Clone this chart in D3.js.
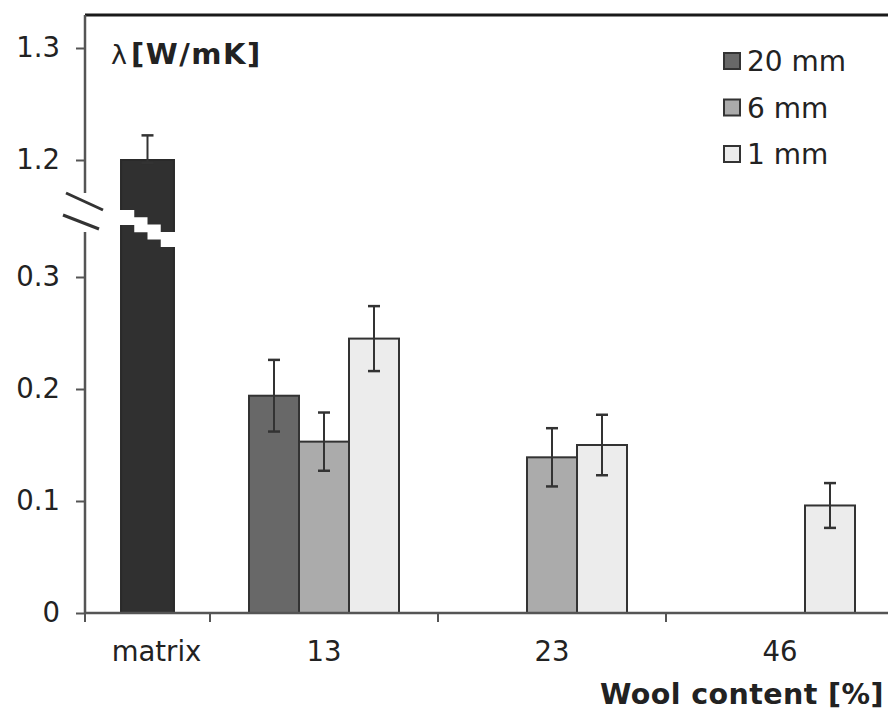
<!DOCTYPE html>
<html>
<head>
<meta charset="utf-8">
<script src="https://cdn.jsdelivr.net/npm/d3@7"></script>
<style>
  body { margin: 0; background: #fff; }
  svg { display: block; }
  text { font-family: Verdana, "DejaVu Sans", sans-serif; fill: #222; }
</style>
</head>
<body>
<div id="chart"></div>
<script>
// data
const groups = ["13", "23", "46"];
const series = ["20 mm", "6 mm", "1 mm"];
const mean20 = [0.194, null, null];
const mean6 = [0.153, 0.139, null];
const mean1 = [0.245, 0.150, 0.096];
const err20 = [0.032, null, null];
const err6 = [0.026, 0.026, null];
const err1 = [0.029, 0.027, 0.020];
const matrixLabel = "matrix";
const matrixMean = 1.2;
const matrixErr = 0.022;
const yTicks = [0, 0.1, 0.2, 0.3, 1.2, 1.3];

const W = 888, H = 713;
const margin = { top: 15, left: 85, bottom: 613 };

const svg = d3.select("#chart").append("svg")
  .attr("width", W).attr("height", H);

// broken y axis: 0..0.3 below the break, 1.2..1.3 above it
const y = d3.scaleLinear()
  .domain([0, 0.3, 1.2, 1.3])
  .range([613, 277, 160, 48]);

const xMatrix = d3.scaleBand().domain([matrixLabel]).range([85, 210]).paddingOuter(0.68);
const x0 = d3.scaleBand().domain(groups).range([210, 894]);
const x1 = d3.scaleBand().domain(series).range([0, x0.bandwidth()]).paddingOuter(0.78);

const color = d3.scaleOrdinal().domain(series).range(["#686868", "#ababab", "#ececec"]);
const matrixColor = "#303030";

const rows = [];
groups.forEach((g, i) => {
  [[mean20, err20], [mean6, err6], [mean1, err1]].forEach(([m, e], j) => {
    if (m[i] != null) rows.push({ group: g, s: series[j], v: m[i], err: e[i] });
  });
});

// frame top
svg.append("line")
  .attr("x1", margin.left).attr("x2", W)
  .attr("y1", margin.top).attr("y2", margin.top)
  .attr("stroke", "#1a1a1a").attr("stroke-width", 3);

// bars
svg.append("g").selectAll("rect")
  .data(rows)
  .join("rect")
  .attr("x", d => x0(d.group) + x1(d.s))
  .attr("y", d => y(d.v))
  .attr("width", x1.bandwidth())
  .attr("height", d => y(0) - y(d.v))
  .attr("fill", d => color(d.s))
  .attr("stroke", "#333")
  .attr("stroke-width", 2);

// matrix bar with a cut
const mx = xMatrix(matrixLabel), mw = xMatrix.bandwidth();
svg.append("rect")
  .attr("x", mx).attr("y", y(matrixMean))
  .attr("width", mw).attr("height", y(0) - y(matrixMean))
  .attr("fill", matrixColor).attr("stroke", "#2a2a2a").attr("stroke-width", 2);

const steps = 4, stepW = mw / steps, stepDrop = 7.3, cutTop = 210, cutGap = 15;
const cut = [];
for (let i = 0; i < steps; i++) {
  cut.push([mx + i * stepW - (i === 0 ? 3 : 0), cutTop + i * stepDrop]);
  cut.push([mx + (i + 1) * stepW + (i === steps - 1 ? 3 : 0), cutTop + i * stepDrop]);
}
for (let i = steps - 1; i >= 0; i--) {
  cut.push([mx + (i + 1) * stepW + (i === steps - 1 ? 3 : 0), cutTop + cutGap + i * stepDrop]);
  cut.push([mx + i * stepW - (i === 0 ? 3 : 0), cutTop + cutGap + i * stepDrop]);
}
svg.append("polygon")
  .attr("points", cut.map(p => p.join(",")).join(" "))
  .attr("fill", "#fff");

// error bars
const errRows = rows.map(d => ({ cx: x0(d.group) + x1(d.s) + x1.bandwidth() / 2, v: d.v, err: d.err }));
errRows.push({ cx: mx + mw / 2, v: matrixMean, err: matrixErr });
const eg = svg.append("g").attr("stroke", "#333").attr("stroke-width", 2);
errRows.forEach(d => {
  eg.append("line").attr("x1", d.cx).attr("x2", d.cx)
    .attr("y1", y(d.v + d.err)).attr("y2", y(d.v - d.err));
  [d.v + d.err, d.v - d.err].forEach(v => {
    eg.append("line").attr("x1", d.cx - 6).attr("x2", d.cx + 6)
      .attr("y1", y(v)).attr("y2", y(v)).attr("stroke-width", 2.5);
  });
});

// y axis
const yAxis = svg.append("g")
  .attr("transform", `translate(${margin.left},0)`)
  .call(d3.axisLeft(y).tickValues(yTicks).tickSize(9).tickPadding(16)
    .tickFormat(d => d === 0 ? "0" : d3.format(".1f")(d)));
yAxis.select(".domain").remove();
yAxis.selectAll(".tick line").attr("stroke", "#555").attr("stroke-width", 2);
yAxis.selectAll(".tick text").attr("font-size", 27.5).attr("fill", "#222");

const axisGap = [193, 232];
svg.append("line").attr("x1", margin.left).attr("x2", margin.left)
  .attr("y1", margin.top).attr("y2", axisGap[0])
  .attr("stroke", "#555").attr("stroke-width", 2.5);
svg.append("line").attr("x1", margin.left).attr("x2", margin.left)
  .attr("y1", axisGap[1]).attr("y2", margin.bottom)
  .attr("stroke", "#555").attr("stroke-width", 2.5);
// break marks
[[66, 193, 103, 210], [63, 215, 99, 229]].forEach(([a, b, c, d]) => {
  svg.append("line").attr("x1", a).attr("y1", b).attr("x2", c).attr("y2", d)
    .attr("stroke", "#333").attr("stroke-width", 3);
});

// x axis
svg.append("line").attr("x1", margin.left).attr("x2", W)
  .attr("y1", margin.bottom).attr("y2", margin.bottom)
  .attr("stroke", "#555").attr("stroke-width", 2.5);
const xTickPos = [margin.left].concat(groups.map(g => x0(g))).concat([x0.range()[1]]);
svg.append("g").selectAll("line")
  .data(xTickPos)
  .join("line")
  .attr("x1", d => d).attr("x2", d => d)
  .attr("y1", margin.bottom).attr("y2", margin.bottom + 9)
  .attr("stroke", "#555").attr("stroke-width", 2);

const xLabels = [{ t: matrixLabel, x: mx + mw / 2 + 9 }]
  .concat(groups.map(g => ({ t: g, x: x0(g) + x0.bandwidth() / 2 })));
svg.append("g").selectAll("text")
  .data(xLabels)
  .join("text")
  .attr("x", d => d.x).attr("y", 661)
  .attr("text-anchor", "middle")
  .attr("font-size", 27.5)
  .text(d => d.t);

svg.append("text")
  .attr("x", 600).attr("y", 704)
  .attr("font-size", 28.5).attr("font-weight", "bold")
  .attr("letter-spacing", 0.4)
  .attr("fill", "#111")
  .text("Wool content [%]");

// y title inside plot
const yt = svg.append("text").attr("x", 111).attr("y", 64).attr("fill", "#222");
yt.append("tspan").attr("font-size", 27).text("λ");
yt.append("tspan").attr("dx", 4).attr("font-size", 29).attr("font-weight", "bold")
  .attr("letter-spacing", 1.5).text("[W/mK]");

// legend
const legend = svg.append("g").attr("transform", "translate(724,61)");
series.forEach((s, i) => {
  const row = legend.append("g").attr("transform", `translate(0,${i * 46.5})`);
  row.append("rect").attr("x", 0).attr("y", -8).attr("width", 16).attr("height", 16)
    .attr("fill", color(s)).attr("stroke", "#333").attr("stroke-width", 2);
  row.append("text").attr("x", 23).attr("y", 0).attr("dy", "0.36em")
    .attr("font-size", 28).text(s);
});
</script>
</body>
</html>
